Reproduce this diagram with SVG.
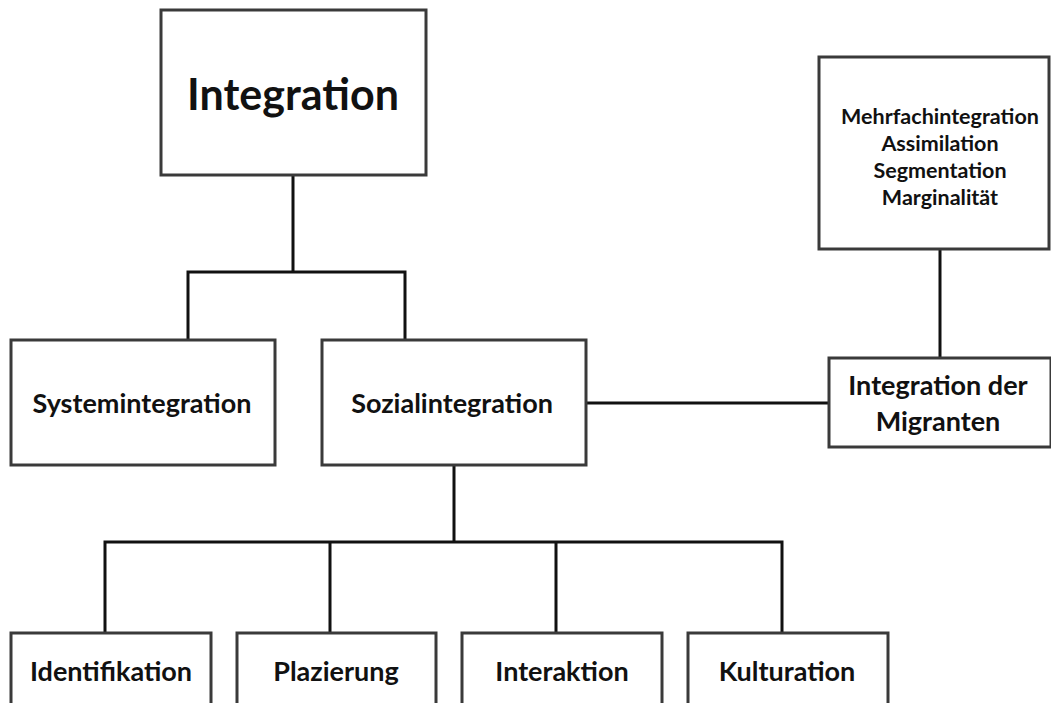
<svg xmlns="http://www.w3.org/2000/svg" width="1051" height="703" viewBox="0 0 1051 703">
<style>
.box{fill:#fff;stroke:#3a3a3a;stroke-width:3}
.t{font-family:Lato,"Liberation Sans",sans-serif;font-weight:bold;fill:#111;text-anchor:middle}
.m{font-size:21.5px}
.b{font-size:27px}
.c{fill:none;stroke:#111;stroke-width:3}
</style>
<rect width="1051" height="703" fill="#fff"/>
<g id="connectors">
<path class="c" d="M293 175V272M188 340V272H405V340"/>
<path class="c" d="M940 249V358"/>
<path class="c" d="M586 403H829"/>
<path class="c" d="M454 465V542M105 633V542H782V633M330 542V633M556 542V633"/>
</g>
<g id="n-integration"><rect class="box" x="161" y="10" width="265" height="165"/><text class="t" x="293" y="110" font-size="43">Integration</text></g>
<g id="n-formen"><rect class="box" x="819" y="57" width="230" height="192"/>
<text class="t m" x="940" y="124">Mehrfachintegration</text>
<text class="t m" x="940" y="151">Assimilation</text>
<text class="t m" x="940" y="178">Segmentation</text>
<text class="t m" x="940" y="205">Marginalität</text></g>
<g id="n-system"><rect class="box" x="11" y="340" width="264" height="125"/><text class="t b" x="142" y="413">Systemintegration</text></g>
<g id="n-sozial"><rect class="box" x="322" y="340" width="264" height="125"/><text class="t b" x="452" y="413">Sozialintegration</text></g>
<g id="n-migranten"><rect class="box" x="829" y="358" width="222" height="89"/>
<text class="t b" x="938" y="395">Integration der</text>
<text class="t b" x="938" y="431">Migranten</text></g>
<g id="n-ident"><rect class="box" x="11" y="633" width="200" height="80"/><text class="t b" x="111" y="681">Identifikation</text></g>
<g id="n-plaz"><rect class="box" x="237" y="633" width="199" height="80"/><text class="t b" x="336" y="681">Plazierung</text></g>
<g id="n-inter"><rect class="box" x="462" y="633" width="200" height="80"/><text class="t b" x="562" y="681">Interaktion</text></g>
<g id="n-kult"><rect class="box" x="688" y="633" width="200" height="80"/><text class="t b" x="787" y="681">Kulturation</text></g>
</svg>
